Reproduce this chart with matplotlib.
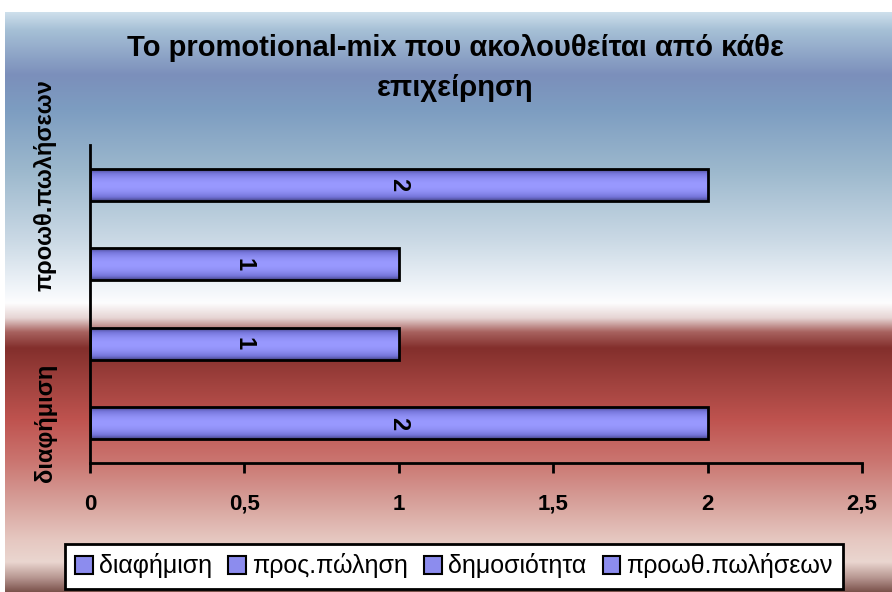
import numpy as np
import matplotlib
matplotlib.use('Agg')
import matplotlib.pyplot as plt
from matplotlib.colors import LinearSegmentedColormap, to_rgb
from matplotlib.patches import Patch

plt.rcParams['font.family'] = ['Liberation Sans', 'DejaVu Sans']

# data
categories = ['διαφήμιση', 'προς.πώληση', 'δημοσιότητα', 'προωθ.πωλήσεων']
values = [2, 1, 1, 2]
shown_labels = ['διαφήμιση', '', '', 'προωθ.πωλήσεων']
xticks = [0, 0.5, 1, 1.5, 2, 2.5]
xtick_labels = ['0', '0,5', '1', '1,5', '2', '2,5']
title1 = 'Το promotional-mix που ακολουθείται από κάθε'
title2 = 'επιχείρηση'

W, H = 892, 592
fig = plt.figure(figsize=(W / 100, H / 100), dpi=100)

# chart background: blue sky fading to white, then red band
stops = [(12, '#cfe0ec'), (30, '#a6c0d6'), (75, '#7b8fbb'), (110, '#7d9dc1'),
         (170, '#9cb8cd'), (240, '#cad9e5'), (285, '#eef3f8'), (303, '#fdfdfe'),
         (318, '#e6d4d3'), (332, '#a8625f'), (348, '#832f2c'), (385, '#a2433f'),
         (420, '#bf534f'), (460, '#ca746f'), (500, '#d69e98'), (540, '#e6c8c1'),
         (562, '#ead6d0'), (578, '#b69590'), (592, '#7a514a')]
sy = np.array([s[0] for s in stops], dtype=float)
sc = np.array([to_rgb(s[1]) for s in stops])
rows = np.arange(12, 592) + 0.5
bgimg = np.stack([np.interp(rows, sy, sc[:, k]) for k in range(3)], axis=-1)[:, None, :]
bg = fig.add_axes([5 / W, 0, 1 - 5 / W, 580 / H])
bg.imshow(bgimg, aspect='auto', extent=[0, 1, 0, 1], interpolation='bilinear')
bg.axis('off')

ax = fig.add_axes([90 / W, (H - 463) / H, 772 / W, 318 / H])
ax.patch.set_alpha(0)

# bar shading: dark edges, light middle
bar_cmap = LinearSegmentedColormap.from_list('barshade', ['#3a3a74', '#7474d8', '#9999ff'])
t = np.linspace(0, 1, 64)
bar_grad = (np.sin(np.pi * t) ** 0.7)[:, None]

ypos = np.arange(len(categories))
bars = ax.barh(ypos, values, height=0.4, facecolor='none', edgecolor='black',
               linewidth=2, zorder=3)
for bar, v in zip(bars, values):
    x0, y0 = bar.get_x(), bar.get_y()
    w, h = bar.get_width(), bar.get_height()
    ax.imshow(bar_grad, extent=[x0, x0 + w, y0, y0 + h], aspect='auto',
              cmap=bar_cmap, vmin=0, vmax=1, zorder=2, interpolation='bilinear')
    ax.text(x0 + w / 2, y0 + h / 2, str(v), rotation=-90, ha='center', va='center',
            fontweight='bold', fontsize=17, zorder=4)

ax.set_xlim(0, 2.5)
ax.set_ylim(-0.5, 3.5)
ax.set_xticks(xticks)
ax.set_xticklabels(xtick_labels, fontsize=16, fontweight='bold')
ax.set_yticks(ypos)
ax.set_yticklabels(shown_labels, rotation=90, va='center', fontsize=17, fontweight='bold')
ax.tick_params(axis='y', length=0, pad=24)
ax.tick_params(axis='x', length=7, width=2, direction='out', pad=15)
for s in ['top', 'right']:
    ax.spines[s].set_visible(False)
for s in ['left', 'bottom']:
    ax.spines[s].set_linewidth(2)

fig.text(455 / W, (H - 48) / H, title1, ha='center', va='center', fontsize=21, fontweight='bold')
fig.text(455 / W, (H - 88) / H, title2, ha='center', va='center', fontsize=21, fontweight='bold')

handles = [Patch(facecolor='#8c8cee', edgecolor='black', linewidth=1.5) for _ in categories]
leg = fig.legend(handles, categories, loc='center', bbox_to_anchor=(454 / W, (H - 566) / H),
                 ncol=4, fontsize=18, frameon=True, fancybox=False, edgecolor='black',
                 facecolor='white', framealpha=1, handlelength=0.7, handleheight=0.7,
                 handletextpad=0.25, columnspacing=0.65, borderpad=0.4)
leg.get_frame().set_linewidth(2)

fig.savefig('out.png', dpi=100)
